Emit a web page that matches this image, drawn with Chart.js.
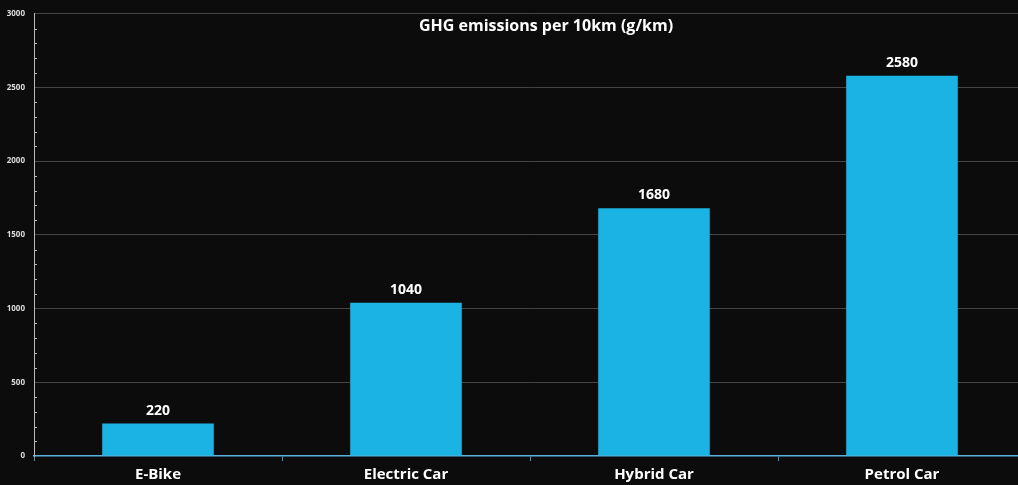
<!DOCTYPE html>
<html>
<head>
<meta charset="utf-8">
<script src="https://cdn.jsdelivr.net/npm/chart.js@4"></script>
<style>
  html, body { margin: 0; padding: 0; background: #0c0c0c; }
  #clip { width: 1018px; height: 485px; overflow: hidden; }
  #wrap { width: 1026px; height: 485px; }
</style>
</head>
<body>
<div id="clip"><div id="wrap"><canvas id="stats"></canvas></div></div>
<script>
var categories = ["E-Bike", "Electric Car", "Hybrid Car", "Petrol Car"];
var emissions = [220, 1040, 1680, 2580]; // g per 10km
var yMax = 3000;
var chartTitle = "GHG emissions per 10km (g/km)";

// title, value labels and small minor ticks drawn on top
var overlay = {
    id: "overlay",
    afterDraw: function(chart){
        var ctx = chart.ctx;
        var area = chart.chartArea;
        var y = chart.scales.y;
        ctx.save();

        // minor ticks inside the y axis
        ctx.strokeStyle = "#bbbbbb";
        ctx.lineWidth = 1;
        for (var v = 100; v < yMax; v += 100) {
            if (v % 500 === 0) continue;
            var py = Math.round(y.getPixelForValue(v)) + 0.5;
            ctx.beginPath();
            ctx.moveTo(area.left, py);
            ctx.lineTo(area.left + 3, py);
            ctx.stroke();
        }

        // title
        ctx.fillStyle = "#ffffff";
        ctx.font = "bold 16px 'Open Sans', sans-serif";
        ctx.textAlign = "center";
        ctx.textBaseline = "middle";
        ctx.fillText(chartTitle, 546, 26);

        // value labels
        ctx.font = "bold 14px 'Open Sans', sans-serif";
        ctx.textBaseline = "bottom";
        chart.getDatasetMeta(0).data.forEach(function(bar, i){
            ctx.fillText(String(emissions[i]), bar.x, bar.y - 6);
        });
        ctx.restore();
    }
};

function createChart(){
    var canvas = document.querySelector("#stats").getContext("2d");

    new Chart(canvas, {
        type: "bar",
        data: {
            labels: categories,
            datasets: [{
                data: emissions,
                backgroundColor: "#1ab3e3",
                categoryPercentage: 0.45,
                barPercentage: 1
            }]
        },
        options: {
            responsive: true,
            maintainAspectRatio: false,
            animation: false,
            layout: { padding: { top: 12, right: 0, left: 0, bottom: 0 } },
            plugins: {
                legend: { display: false },
                title: { display: false },
                tooltip: { enabled: false }
            },
            scales: {
                x: {
                    grid: {
                        offset: true,
                        drawOnChartArea: false,
                        tickLength: 5,
                        tickColor: "#4a90b8"
                    },
                    border: { color: "#5cb0dc", width: 1.5 },
                    ticks: {
                        color: "#ffffff",
                        padding: 5,
                        font: { family: "'Open Sans', sans-serif", size: 15, weight: "bold" }
                    },
                    afterFit: function(scale){ scale.height = 29; }
                },
                y: {
                    min: 0,
                    max: yMax,
                    grid: {
                        drawTicks: false,
                        color: function(c){
                            return (c.tick && c.tick.value % 500 === 0 && c.tick.value > 0) ? "#454545" : "rgba(0,0,0,0)";
                        }
                    },
                    border: { color: "#bbbbbb" },
                    ticks: {
                        stepSize: 100,
                        autoSkip: false,
                        color: "#dddddd",
                        padding: 9,
                        font: { family: "'Open Sans', sans-serif", size: 8, weight: "bold" },
                        callback: function(v){ return v % 500 === 0 ? v : ""; }
                    },
                    afterFit: function(scale){ scale.width = 34; }
                }
            }
        },
        plugins: [overlay]
    });
}

createChart();
</script>
</body>
</html>
